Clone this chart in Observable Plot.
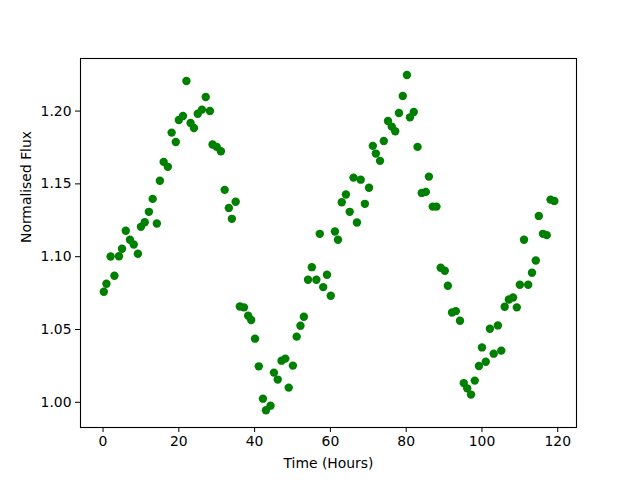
<!DOCTYPE html>
<html>
<head>
<meta charset="utf-8">
<script src="https://cdn.jsdelivr.net/npm/d3@7"></script>
<script src="https://cdn.jsdelivr.net/npm/@observablehq/plot@0.6"></script>
<style>
  html, body { margin: 0; padding: 0; background: #fff; }
</style>
</head>
<body>
<div id="chart"></div>
<script>
const time = [
  0.2, 0.9, 2.0, 3.0, 4.2, 5.0, 6.0, 7.1, 8.1, 9.2,
  10.0, 11.0, 12.1, 13.1, 14.2, 15.0, 16.0, 17.1, 18.1, 19.2,
  20.0, 21.1, 22.0, 23.1, 24.0, 25.0, 26.1, 27.1, 28.2, 28.9,
  30.0, 31.1, 32.1, 33.2, 34.0, 35.0, 36.1, 37.2, 38.3, 39.1,
  40.1, 41.1, 42.2, 43.0, 44.2, 45.1, 46.1, 47.1, 48.1, 49.0,
  50.1, 51.1, 52.1, 53.0, 54.1, 55.1, 56.3, 57.2, 58.1, 59.1,
  60.1, 61.2, 62.0, 63.0, 64.1, 65.1, 66.1, 67.0, 68.0, 69.1,
  70.2, 71.2, 72.0, 73.1, 74.1, 75.2, 76.2, 77.1, 78.1, 79.1,
  80.2, 81.0, 82.0, 83.0, 84.1, 85.2, 86.0, 87.0, 88.0, 89.1,
  90.2, 91.0, 92.1, 93.1, 94.2, 95.2, 96.1, 97.1, 98.1, 99.2,
  100.0, 101.0, 102.1, 103.1, 104.2, 105.1, 106.0, 107.1, 108.2, 109.2,
  110.0, 111.1, 112.2, 113.2, 114.2, 115.0, 116.1, 117.1, 118.1, 119.1
];
const flux = [
  1.0759, 1.0814, 1.1001, 1.0869, 1.1003, 1.1054, 1.1178, 1.1116, 1.1084, 1.1020,
  1.1205, 1.1237, 1.1308, 1.1397, 1.1228, 1.1521, 1.1651, 1.1617, 1.1852, 1.1788,
  1.1939, 1.1966, 1.2206, 1.1918, 1.1884, 1.1982, 1.2010, 1.2097, 1.2001, 1.1770,
  1.1754, 1.1724, 1.1459, 1.1335, 1.1260, 1.1377, 1.0658, 1.0652, 1.0595, 1.0565,
  1.0437, 1.0247, 1.0025, 0.9945, 0.9977, 1.0204, 1.0156, 1.0286, 1.0300, 1.0101,
  1.0252, 1.0451, 1.0526, 1.0588, 1.0842, 1.0928, 1.0842, 1.1157, 1.0791, 1.0876,
  1.0732, 1.1173, 1.1116, 1.1374, 1.1427, 1.1308, 1.1543, 1.1235, 1.1529, 1.1363,
  1.1473, 1.1761, 1.1708, 1.1658, 1.1795, 1.1932, 1.1893, 1.1861, 1.1987, 1.2104,
  1.2248, 1.1957, 1.1994, 1.1754, 1.1438, 1.1445, 1.1550, 1.1344, 1.1344, 1.0924,
  1.0903, 1.0800, 1.0617, 1.0626, 1.0560, 1.0132, 1.0096, 1.0053, 1.0149, 1.0249,
  1.0377, 1.0279, 1.0505, 1.0334, 1.0528, 1.0355, 1.0656, 1.0706, 1.0720, 1.0652,
  1.0807, 1.1116, 1.0807, 1.0890, 1.0974, 1.1280, 1.1157, 1.1148, 1.1392, 1.1383
];
const xTicks = [0, 20, 40, 60, 80, 100, 120];
const yTicks = [1.00, 1.05, 1.10, 1.15, 1.20];
const xLabel = "Time (Hours)";
const yLabel = "Normalised Flux";

const data = time.map((t, i) => ({t, f: flux[i]}));

const chart = Plot.plot({
  width: 640,
  height: 480,
  marginLeft: 80,
  marginRight: 64,
  marginTop: 58,
  marginBottom: 53,
  style: {fontFamily: "'DejaVu Sans', sans-serif", fontSize: "13.9px", color: "black", background: "white"},
  x: {domain: [-5.95, 124.95]},
  y: {domain: [0.9827, 1.2361]},
  marks: [
    Plot.dot(data, {x: "t", y: "f", r: 4.2, fill: "#008000", stroke: "none"}),
    Plot.frame({stroke: "black", strokeWidth: 1.1}),
    Plot.axisX({ticks: xTicks, tickSize: 5, tickPadding: 4, label: null, tickFormat: d3.format("d"), fontSize: 13.9}),
    Plot.axisY({ticks: yTicks, tickSize: 5, tickPadding: 4, label: null, tickFormat: d3.format(".2f"), fontSize: 13.9}),
    Plot.text([xLabel], {frameAnchor: "bottom", dy: 36, text: d => d, fontSize: 13.9, lineAnchor: "middle"}),
    Plot.text([yLabel], {frameAnchor: "left", dx: -54, rotate: -90, text: d => d, fontSize: 13.9, lineAnchor: "middle"})
  ]
});
document.getElementById("chart").appendChild(chart);
</script>
</body>
</html>
